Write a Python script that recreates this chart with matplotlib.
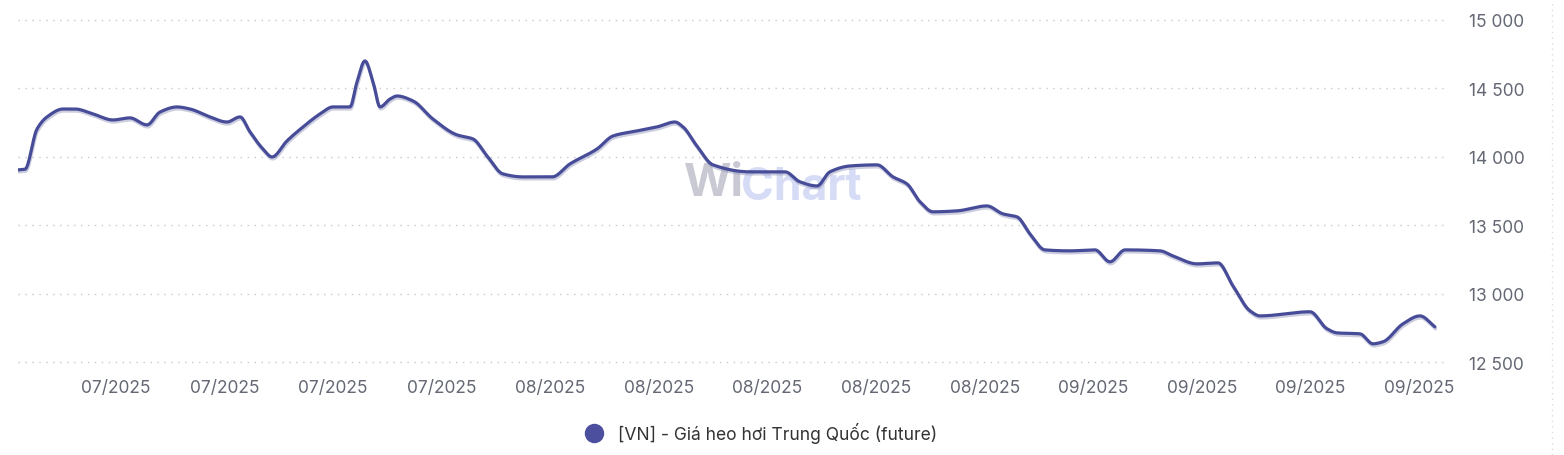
# -*- coding: utf-8 -*-
import numpy as np
import matplotlib
matplotlib.use('Agg')
import matplotlib.pyplot as plt
import matplotlib.patheffects as pe
from matplotlib.lines import Line2D

plt.rcParams['font.family'] = ['Inter', 'DejaVu Sans']

# days since 2025-06-28 (approx) and price
days = [0.0, 0.45, 1.22, 1.86, 2.89, 3.66, 4.81, 6.09, 7.18, 8.27, 9.11, 10.20, 11.03,
        12.31, 13.40, 14.24, 14.88, 15.71, 16.29, 17.25, 18.28, 19.37, 20.20, 21.29,
        21.74, 22.25, 22.77, 23.22, 23.86, 24.31, 25.33, 26.61, 28.15, 29.18, 30.08,
        31.10, 32.39, 34.25, 35.40, 37.13, 38.16, 39.70, 40.98, 42.13, 42.65, 43.54,
        44.57, 46.94, 49.19, 50.15, 51.24, 52.07, 53.36, 55.09, 56.12, 57.01, 57.85,
        58.68, 60.22, 62.14, 63.17, 64.07, 64.90, 65.86, 67.47, 69.07, 70.03, 71.00,
        73.24, 74.07, 75.61, 76.96, 77.92, 79.01, 79.65, 82.86, 83.95, 84.59, 86.06,
        86.90, 87.54, 88.82, 89.91, 90.87]
price = [13905, 13910, 14204, 14292, 14350, 14350, 14314, 14270, 14285, 14234, 14328,
         14365, 14350, 14292, 14255, 14292, 14183, 14058, 14000, 14117, 14219, 14314,
         14365, 14365, 14547, 14701, 14547, 14365, 14423, 14445, 14409, 14277, 14161,
         14131, 14007, 13876, 13854, 13854, 13949, 14058, 14153, 14190, 14219, 14255,
         14219, 14080, 13942, 13891, 13891, 13818, 13788, 13891, 13934, 13942, 13854,
         13803, 13672, 13599, 13606, 13642, 13584, 13562, 13438, 13321, 13314, 13321,
         13234, 13321, 13314, 13277, 13219, 13226, 13058, 12876, 12839, 12869, 12745,
         12715, 12708, 12635, 12650, 12781, 12839, 12759]

xtick_labels = ['07/2025'] * 4 + ['08/2025'] * 5 + ['09/2025'] * 4
yticks = [12500, 13000, 13500, 14000, 14500, 15000]


def pchip(x, y, xs):
    x = np.asarray(x, float)
    y = np.asarray(y, float)
    h = np.diff(x)
    d = np.diff(y) / h
    m = np.zeros_like(y)
    m[0], m[-1] = d[0], d[-1]
    for i in range(1, len(x) - 1):
        if d[i - 1] * d[i] > 0:
            w1 = 2 * h[i] + h[i - 1]
            w2 = h[i] + 2 * h[i - 1]
            m[i] = (w1 + w2) / (w1 / d[i - 1] + w2 / d[i])
    idx = np.clip(np.searchsorted(x, xs) - 1, 0, len(x) - 2)
    t = (xs - x[idx]) / h[idx]
    hh = h[idx]
    return ((2 * t**3 - 3 * t**2 + 1) * y[idx] + (t**3 - 2 * t**2 + t) * hh * m[idx]
            + (-2 * t**3 + 3 * t**2) * y[idx + 1] + (t**3 - t**2) * hh * m[idx + 1])


W, H = 1564, 456
fig = plt.figure(figsize=(W / 100, H / 100), dpi=100)
ax = fig.add_axes([18 / W, 1 - 377 / H, (1445 - 18) / W, (377 - 7.3) / H])
ax.set_zorder(2)
ax.patch.set_alpha(0)

xs = np.linspace(days[0], days[-1], 2000)
ys = pchip(days, price, xs)
ax.plot(xs, ys, color='#474c98', lw=2.3, solid_capstyle='round',
        path_effects=[pe.SimpleLineShadow(offset=(0.5, -1.5), shadow_color='#8f92b8', alpha=0.45),
                      pe.Normal()], zorder=3)

ax.set_xlim(0, (1445 - 18) / 15.593)
ax.set_ylim(12400, 15100)

tick_pos = [(116 - 18) / 15.593 + i * (108.6 / 15.593) for i in range(len(xtick_labels))]
ax.set_xticks(tick_pos)
ax.set_xticklabels(xtick_labels)
ax.set_yticks(yticks)
ax.set_yticklabels([f'{v:,}'.replace(',', ' ') for v in yticks])
ax.yaxis.tick_right()
ax.tick_params(axis='y', length=0, pad=17, labelsize=12.5, labelcolor='#646874')
ax.tick_params(axis='x', length=0, pad=2, labelsize=12.5, labelcolor='#646874')
for lab in ax.get_yticklabels():
    lab.set_horizontalalignment('left')

ax.grid(axis='y', color='#c8c8ce', linestyle=(0, (1, 4)), lw=1)
ax.grid(axis='x', visible=False)
for s in ax.spines.values():
    s.set_visible(False)

# watermark
fig.text(684 / W, 1 - 184 / H, 'Wi', fontsize=33, fontweight='bold', color='#c8c9d2',
         ha='left', va='center', zorder=0)
fig.text(741 / W, 1 - 188 / H, 'Chart', fontsize=32, fontweight='bold', color='#d6dcf6',
         ha='left', va='center', zorder=0)

# right dotted border
fig.add_artist(Line2D([1552 / W, 1552 / W], [0, 1], transform=fig.transFigure,
                      color='#dcdce0', lw=1, linestyle=(0, (1, 3))))

handle = Line2D([], [], marker='o', linestyle='', markersize=13, color='#4b4f9e')
fig.legend(handles=[handle], labels=['[VN] - Giá heo hơi Trung Quốc (future)'],
           loc='center', bbox_to_anchor=(757 / W, 1 - 434 / H), frameon=False,
           fontsize=12.6, labelcolor='#333333', handletextpad=0.4)

plt.savefig('out.png', dpi=100)
